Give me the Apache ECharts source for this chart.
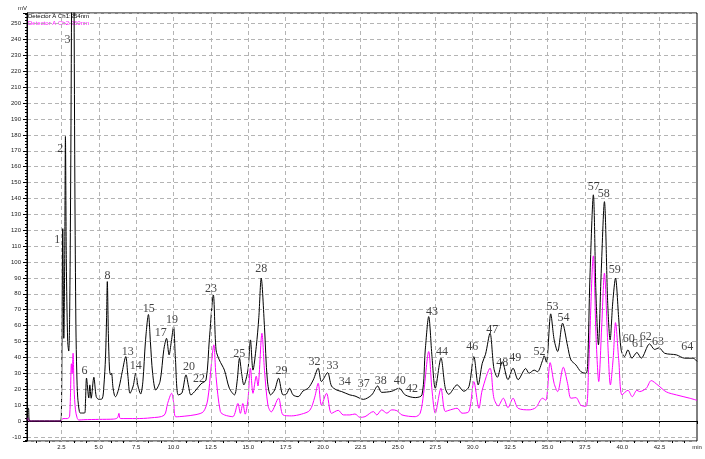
<!DOCTYPE html>
<html><head><meta charset="utf-8">
<script src="https://cdn.jsdelivr.net/npm/echarts@6/dist/echarts.min.js"></script>
<style>html,body{margin:0;padding:0;background:#fff}#c{width:705px;height:459px}</style>
</head><body><div id="c"></div>
<script>
// Retention time (min) and signal (mV), Ch1 254nm (black)
const ch1Time = [0.2,0.25,0.3,0.37,2.43,2.5,2.55,2.59,2.63,2.66,2.72,2.77,2.83,2.92,2.99,3.05,3.12,3.2,3.27,3.33,3.4,3.47,3.53,3.59,3.7,3.77,4.05,4.11,4.18,4.33,4.4,4.49,4.67,4.83,5.0,5.23,5.34,5.45,5.52,5.57,5.64,5.72,5.79,5.85,5.95,6.05,6.12,6.35,6.57,6.8,6.95,7.09,7.3,7.47,7.62,7.8,7.95,8.12,8.32,8.45,8.6,8.81,9.1,9.35,9.53,9.7,9.85,10.0,10.12,10.31,10.56,10.83,11.0,11.16,11.5,11.83,12.17,12.39,12.66,12.84,13.06,13.4,13.73,14.07,14.25,14.41,14.55,14.7,14.97,15.14,15.31,15.53,15.7,15.86,16.08,16.27,16.49,16.76,17.02,17.32,17.55,17.76,17.99,18.33,18.66,19.0,19.34,19.67,19.89,20.3,20.56,20.9,21.24,21.79,22.13,22.69,23.25,23.65,23.92,24.59,25.08,25.49,26.16,26.61,26.83,27.06,27.28,27.5,27.88,28.17,28.4,28.96,29.41,29.75,30.08,30.37,30.64,30.86,31.16,31.42,31.65,31.98,32.36,32.7,33.04,33.55,33.77,34.11,34.33,34.67,34.78,34.93,35.22,35.45,35.68,36.01,36.35,36.57,36.9,37.24,37.58,37.69,37.84,38.07,38.25,38.41,38.58,38.81,39.03,39.19,39.37,39.55,39.77,39.93,40.15,40.38,40.65,40.98,41.27,41.83,42.17,42.46,42.84,43.62,44.18,44.74,45.0];
const ch1Value = [0,8,8,0,0,5,72,121,80,52,100,179,100,50,44,65,150,300,420,300,150,60,30,15,6,5,5,12,27,14.5,22.7,14.3,27.5,15.3,13.6,14,22,40,65,87.7,55,32,29,30,21,16,15.3,21,31,40.5,28,17.4,22,30,22,17,25,50,67,50,30,19.5,25,45,52,41.6,50,59.4,40,16.4,17.6,29,22,16.4,19.5,23.3,25.8,51,79.3,44.7,38.4,32,20.6,16.4,25,39.5,30,22.7,32,51,32,46.8,65,89.9,59,25.8,16.4,19.5,26.9,16.4,17,20.6,16.4,15.3,18.9,20.6,25.8,33.2,24.8,30.4,22,19.5,18.5,16.4,15.7,13.6,16.4,22,18,18.7,20.6,16.4,14.7,16.4,44.7,65.7,40.5,20.6,39.5,20.6,16.8,22.7,18.7,21.6,40.5,22.7,36.3,42,55.2,33,27.5,37.3,26,33.2,26,33,30,32,31,38,41,37,67.4,51,43.7,61.5,47,38.4,35.3,31,30,36,90,142.3,78,47.9,90,138,74,51,75,89.9,63.6,44.7,40.5,44.7,39.5,43.1,39.5,48.5,45,46,42.6,41.6,39.5,39.5,37.5];
// Ch2 (magenta)
const ch2Time = [0.2,0.25,0.35,2.43,2.6,2.9,3.05,3.17,3.22,3.28,3.35,3.44,3.55,3.66,4.0,5.0,6.0,6.25,6.35,6.45,7.5,8.5,9.37,9.6,9.87,10.0,10.15,10.71,11.5,12.0,12.28,12.51,12.69,12.84,13.13,13.4,13.96,14.3,14.47,14.63,14.79,14.97,15.14,15.31,15.53,15.64,15.91,16.08,16.31,16.53,17.02,17.32,17.88,18.55,19.11,19.44,19.67,19.89,20.23,20.56,21.01,21.35,21.79,22.13,22.46,22.8,23.36,23.59,23.92,24.26,24.59,24.93,25.27,26.16,26.49,26.72,27.06,27.28,27.5,27.88,28.17,28.51,28.96,29.29,29.75,30.08,30.42,30.64,31.16,31.42,31.71,32.05,32.36,32.7,33.04,33.77,34.22,34.67,34.89,35.18,35.45,35.68,36.06,36.35,36.57,36.9,37.24,37.58,37.74,38.07,38.25,38.43,38.63,38.81,39.03,39.21,39.4,39.55,39.77,39.99,40.38,40.67,40.98,41.16,41.61,41.94,42.39,42.95,43.62,44.52,45.0];
const ch2Value = [0.5,2,0,0,1.5,1.5,3,36,30,42.6,20,7,2,0.6,0.8,1,1.2,2,4.8,1.5,1.5,2,3.6,11,17.4,12,2.6,3,4,5.9,13.2,34,47.9,28,5.9,3.8,2.7,11,4.8,11,4.3,13,33.2,17.4,28.2,22,55.2,31.9,9.9,5.7,14.3,3.8,3.2,4.3,6.7,15,23.7,10,17.4,4.8,6.7,3.8,3.8,4.4,2.3,2.7,5.9,3.8,7,4.9,7,6.5,3.8,2.7,4.9,17.4,43.7,19.5,4.9,20.6,6,7,8,4.9,6,24.8,8,19.5,33.2,14.3,9.5,14.3,8.4,14.3,8,7,8.4,14.3,13,36.7,23.5,18.5,33.8,23.5,14.3,14.7,9.9,9.2,30,103.9,53,24.8,60,93,50,22.7,40,61.9,38,16.4,19.3,15.3,19.3,18.5,20.6,25.4,22.5,18.3,16.4,14.3,13];
// Peak numbers and where their labels sit (time, mV)
const peakNums = ['1','2','3','6','8','13','14','15','17','19','20','22','23','25','28','29','32','33','34','37','38','40','42','43','44','46','47','48','49','52','53','54','57','58','59','60','61','62','63','64'];
const peakLabelTime = [2.23,2.43,2.9,4.04,5.59,6.93,7.47,8.34,9.15,9.89,11.03,11.7,12.5,14.39,15.86,17.21,19.42,20.63,21.44,22.71,23.86,25.13,25.94,27.28,27.95,29.97,31.31,31.98,32.85,34.47,35.34,36.08,38.09,38.76,39.5,40.44,41.05,41.58,42.39,44.34];
const peakLabelVal = [114,171.3,240,31.5,91.3,43.5,34.6,70.5,55.4,63.6,34,26.4,83.1,42.2,95.7,31.5,37.2,34.6,24.6,23.3,25.2,25.2,20.2,68.6,43.5,46.6,57.3,36.5,39.7,43.5,71.8,64.9,147.4,143,95.1,51.6,48.5,52.9,49.7,46.6];
// Axis ticks
const xTicks = [2.5,5,7.5,10,12.5,15,17.5,20,22.5,25,27.5,30,32.5,35,37.5,40,42.5,45];
const xTickLabels = ['2.5','5.0','7.5','10.0','12.5','15.0','17.5','20.0','22.5','25.0','27.5','30.0','32.5','35.0','37.5','40.0','42.5','min'];
const legendNames = ['Detector A Ch1:254nm','Detector A Ch2:360nm'];

const xMinor = [];
[0].concat(xTicks).forEach((t,i,a)=>{ if(i<a.length-1){ const d=(a[i+1]-t)/3; xMinor.push(t+d, t+2*d);} });
const xMinorIn = xMinor.filter(v=>v>0.2);
const zip = (a,b)=>a.map((v,i)=>[v,b[i]]);
const chart = echarts.init(document.getElementById('c'), null, {renderer:'canvas'});
const tickFont = {fontFamily:'Arial, Liberation Sans, sans-serif', fontSize:6, color:'#222'};
const gridLine = {show:true,lineStyle:{color:'#b4b4b4',type:[4,3],width:1}};
chart.setOption({
  animation:false,
  backgroundColor:'#fff',
  grid:{left:27,right:8,top:13,bottom:18,show:true,borderColor:'#000',borderWidth:1,backgroundColor:'transparent'},
  xAxis:[
    {type:'value',min:0.2,max:45,
     axisLine:{lineStyle:{color:'#000',width:1}},
     axisTick:{length:3,lineStyle:{color:'#000'},customValues:xTicks},
     axisLabel:Object.assign({margin:3,customValues:xTicks,showMinLabel:true,showMaxLabel:true,
       formatter:v=>{const i=xTicks.findIndex(t=>Math.abs(t-v)<1e-6); return i<0?'':xTickLabels[i];}},tickFont),
     splitLine:{show:false}},
    {type:'value',min:0.2,max:45,position:'bottom',
     axisLine:{show:false},
     axisTick:{length:2,lineStyle:{color:'#000'},customValues:xMinorIn},
     axisLabel:{show:false},splitLine:{show:false}}
  ],
  yAxis:{type:'value',min:-12.6,max:256.7,splitNumber:27,name:'mV',nameLocation:'end',nameGap:2,
    nameTextStyle:{fontFamily:'Arial, Liberation Sans, sans-serif',fontSize:6,color:'#222',align:'right'},
    axisLine:{lineStyle:{color:'#000',width:1}},
    axisTick:{length:4,lineStyle:{color:'#000'}},
    minorTick:{show:true,splitNumber:5,length:2,lineStyle:{color:'#000'}},
    axisLabel:Object.assign({margin:6,showMinLabel:false,showMaxLabel:false,
      formatter:v=>{const r=Math.round(v*10)/10; return Math.abs(r/10-Math.round(r/10))>1e-6?'':String(r);}},tickFont),
    splitLine:gridLine},
  graphic:[
    {type:'text',left:28,top:13,style:{text:legendNames[0],fill:'#000',font:'6px Arial, Liberation Sans, sans-serif'}},
    {type:'text',left:28,top:20,style:{text:legendNames[1],fill:'#ff00ff',font:'6px Arial, Liberation Sans, sans-serif'}}
  ],
  series:[
    {name:legendNames[0],type:'line',data:zip(ch1Time,ch1Value),showSymbol:false,smooth:0.3,clip:true,
     lineStyle:{color:'#000',width:1},z:3,
     markLine:{silent:true,symbol:'none',label:{show:false},animation:false,
       lineStyle:{color:'#b4b4b4',type:[4,3],width:1},
       data:xTicks.filter(t=>t<45).map(t=>({xAxis:t}))}},
    {name:legendNames[1],type:'line',data:zip(ch2Time,ch2Value),showSymbol:false,smooth:0.3,clip:true,
     lineStyle:{color:'#ff00ff',width:1},z:2},
    {type:'scatter',data:zip(peakLabelTime,peakLabelVal).map((p,i)=>({value:p,name:peakNums[i]})),symbolSize:0,z:5,
     label:{show:true,position:'inside',formatter:p=>p.name,fontFamily:'Liberation Serif, DejaVu Serif, serif',fontSize:12,color:'#111'},
     silent:true}
  ]
});
</script></body></html>
